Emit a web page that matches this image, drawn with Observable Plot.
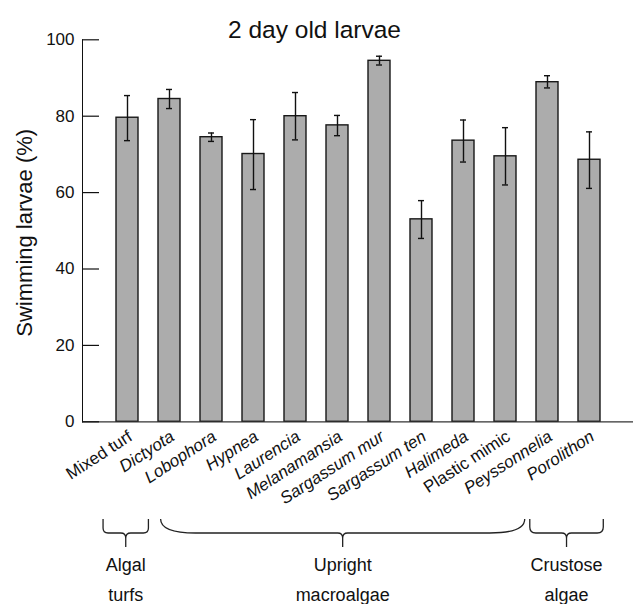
<!DOCTYPE html>
<html><head><meta charset="utf-8">
<script src="https://cdn.jsdelivr.net/npm/d3@7"></script>
<script src="https://cdn.jsdelivr.net/npm/@observablehq/plot@0.6"></script>
<style>body{margin:0;background:#fff} svg{display:block}</style>
</head><body><div id="chart"></div>
<script>
const title = "2 day old larvae";
const yLabel = "Swimming larvae (%)";
const categories = ["Mixed turf","Dictyota","Lobophora","Hypnea","Laurencia","Melanamansia","Sargassum mur","Sargassum ten","Halimeda","Plastic mimic","Peyssonnelia","Porolithon"];
const italicNames = [false,true,true,true,true,true,true,true,true,false,true,true];
const means   = [79.6,84.5,74.5,70.1,80.0,77.6,94.5,53.0,73.6,69.5,88.9,68.6];
const errLow  = [73.6,82.0,73.4,60.8,73.8,74.9,93.4,48.0,68.0,62.0,87.4,61.1];
const errHigh = [85.4,87.0,75.6,79.1,86.2,80.2,95.7,57.9,79.0,77.0,90.6,75.9];
const yTicks = [0,20,40,60,80,100];
const groupLine1 = ["Algal","Upright","Crustose"];
const groupLine2 = ["turfs","macroalgae","algae"];
const groupFirst = ["Mixed turf","Dictyota","Peyssonnelia"];
const groupLast  = ["Mixed turf","Plastic mimic","Porolithon"];

// layout (not data)
const braceInset = [[0.57,0.51],[0.2,0.47],[0.41,0.34]];
const braceCorner = [[5,5],[35,14],[6,6]];

const rows = categories.map((c,i)=>({cat:c, mean:means[i], lo:errLow[i], hi:errHigh[i], italic:italicNames[i]}));

const W = 633, H = 604, mL = 82, mT = 39.3, mB = H - 421.3;
const font = "'Liberation Sans', Arial, Helvetica, sans-serif";
const labelOpts = {x: "cat", text: "cat", frameAnchor: "bottom", rotate: -33, textAnchor: "end", lineAnchor: "middle", dx: 3, dy: 13, fontSize: 17, fill: "#111"};

const chart = Plot.plot({
  width: W, height: H,
  marginLeft: mL, marginRight: 0, marginTop: mT, marginBottom: mB,
  style: {fontFamily: font, fontSize: "17px", background: "#fff", color: "#111"},
  x: {domain: categories, paddingInner: 0.48, paddingOuter: 0.74, axis: null},
  y: {domain: [0,100], ticks: yTicks, tickSize: 0, tickPadding: 8, line: true, label: null},
  marks: [
    Plot.barY(rows, {x: "cat", y: "mean", fill: "#acacac", stroke: "#181818", strokeWidth: 1.4}),
    Plot.ruleX(rows, {x: "cat", y1: "lo", y2: "hi", stroke: "#111", strokeWidth: 1.4}),
    Plot.tickY(rows, {x: "cat", y: "lo", insetLeft: 8, insetRight: 8, stroke: "#111", strokeWidth: 1.4}),
    Plot.tickY(rows, {x: "cat", y: "hi", insetLeft: 8, insetRight: 8, stroke: "#111", strokeWidth: 1.4}),
    Plot.ruleY([0], {stroke: "#333", strokeWidth: 1.2}),
    Plot.tickY(yTicks, {y: d => d, insetRight: W - mL - 17, stroke: "#111", strokeWidth: 1.2}),
    Plot.text(rows.filter(d => !d.italic), labelOpts),
    Plot.text(rows.filter(d => d.italic), {...labelOpts, fontStyle: "italic"}),
    Plot.text([yLabel], {frameAnchor: "left", rotate: -90, textAnchor: "middle", lineAnchor: "middle", dx: -57.5, dy: 2, fontSize: 22, fill: "#111"}),
    Plot.text([title], {frameAnchor: "top", textAnchor: "middle", lineAnchor: "middle", dx: -43.5, dy: -10, fontSize: 24.5, fill: "#111"})
  ]
});

const xs = chart.scale("x");
const step = xs.step;
const bw = xs.bandwidth;
const svg = d3.select(chart.tagName.toLowerCase() === "svg" ? chart : chart.querySelector("svg"));
const braceTop = 519, braceMid = 533, braceTip = 547, tipR = 5;
groupFirst.forEach((g, i) => {
  const L = xs.apply(g) + bw/2 - braceInset[i][0]*step;
  const R = xs.apply(groupLast[i]) + bw/2 + braceInset[i][1]*step;
  const C = (L + R)/2;
  const [rx, ry] = braceCorner[i];
  const p = `M${L},${braceTop} L${L},${braceMid-ry} Q${L},${braceMid} ${L+rx},${braceMid} L${C-tipR},${braceMid} Q${C},${braceMid} ${C},${braceMid+tipR} L${C},${braceTip} M${C},${braceMid+tipR} Q${C},${braceMid} ${C+tipR},${braceMid} L${R-rx},${braceMid} Q${R},${braceMid} ${R},${braceMid-ry} L${R},${braceTop}`;
  svg.append("path").attr("d", p).attr("fill", "none").attr("stroke", "#222").attr("stroke-width", 1.3);
  svg.append("text").attr("x", C).attr("y", 571).attr("text-anchor", "middle")
    .attr("font-family", font).attr("font-size", 18).attr("fill", "#111").text(groupLine1[i]);
  svg.append("text").attr("x", C).attr("y", 601).attr("text-anchor", "middle")
    .attr("font-family", font).attr("font-size", 18).attr("fill", "#111").text(groupLine2[i]);
});

document.getElementById("chart").appendChild(chart);
</script>
</body></html>
